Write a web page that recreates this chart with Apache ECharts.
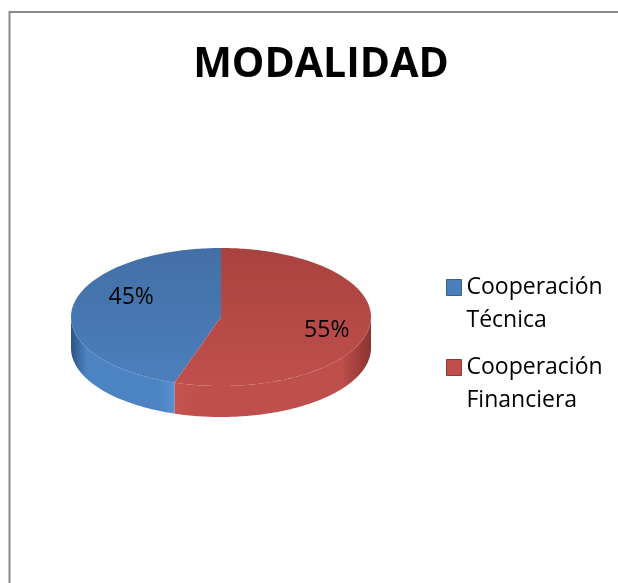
<!DOCTYPE html>
<html style="background-color: #fff;">
<head>
  <meta charset="utf-8">
  <script src="https://cdn.jsdelivr.net/npm/echarts@6/dist/echarts.min.js"></script>
  <style>
    html, body {margin: 0; padding: 0; background: #fff;}
    #container {width: 618px; height: 583px;}
  </style>
</head>
<body>
<div id="container"></div>
<script type="text/javascript">
// ---- data ----
var categories = ['Cooperación Técnica', 'Cooperación Financiera'];
var values = [45, 55];
var labels = ['45%', '55%'];

// ---- look ----
var topColors = [['#436fa5', '#4b7fbc'], ['#a9433f', '#c04f4c']];
var sideColors = [['#2c5482', '#4c83c3', '#5990cf'], ['#c4524f', '#bf4f4c', '#8a3330']];
var boxBorders = ['#385d8a', '#8c3836'];
var labelShift = [[8, -12], [8, 6]];

var CX = 221, CY = 317, RX = 150, RY = 69, DEPTH = 31;

var total = 0;
for (var k = 0; k < values.length; k++) total += values[k];

// angles clockwise from 12 o'clock, slices laid out counterclockwise
function sliceRange(i) {
    var before = 0;
    for (var j = 0; j < i; j++) before += values[j];
    var a1 = 360 * (1 - before / total);
    var a0 = 360 * (1 - (before + values[i]) / total);
    return [a0, a1];
}

function pt(deg, dy) {
    var r = deg * Math.PI / 180;
    return [CX + RX * Math.sin(r), CY - RY * Math.cos(r) + (dy || 0)];
}

function arc(from, to, dy) {
    var pts = [];
    var n = Math.max(2, Math.ceil(Math.abs(to - from)));
    for (var s = 0; s <= n; s++) {
        pts.push(pt(from + (to - from) * s / n, dy));
    }
    return pts;
}

function makeRender(i) {
    return function (params, api) {
        var rng = sliceRange(i);
        var a0 = rng[0], a1 = rng[1];
        var children = [];

        // side wall (front half only: 90..270)
        var s = Math.max(a0, 90), e = Math.min(a1, 270);
        if (e > s) {
            var wall = arc(s, e, 0).concat(arc(e, s, DEPTH));
            var sc = sideColors[i];
            children.push({
                type: 'polygon',
                shape: {points: wall},
                style: {
                    fill: new echarts.graphic.LinearGradient(0, 0, 1, 0, [
                        {offset: 0, color: sc[0]},
                        {offset: 0.15, color: sc[1]},
                        {offset: 0.85, color: sc[1]},
                        {offset: 1, color: sc[2]}
                    ]),
                    stroke: null
                }
            });
        }

        // top face
        var face = [[CX, CY]].concat(arc(a0, a1, 0));
        children.push({
            type: 'polygon',
            shape: {points: face},
            style: {
                fill: new echarts.graphic.LinearGradient(0, 0, 0, 1, [
                    {offset: 0, color: topColors[i][0]},
                    {offset: 1, color: topColors[i][1]}
                ]),
                stroke: null
            }
        });

        // label
        var mid = (a0 + a1) / 2;
        var lp = pt(mid, 0);
        var lx = CX + (lp[0] - CX) * 0.66 + labelShift[i][0];
        var ly = CY + (lp[1] - CY) * 0.66 + labelShift[i][1];
        children.push({
            type: 'text',
            style: {
                text: labels[i],
                x: lx,
                y: ly,
                fill: '#000',
                font: '23px "Open Sans"',
                align: 'center',
                verticalAlign: 'middle'
            }
        });

        return {type: 'group', children: children};
    };
}

var series = [];
var legendData = [];
for (var i = 0; i < categories.length; i++) {
    series.push({
        name: categories[i],
        type: 'custom',
        coordinateSystem: 'none',
        silent: true,
        itemStyle: {color: topColors[i][1]},
        data: [[values[i]]],
        renderItem: makeRender(i)
    });
    legendData.push({
        name: categories[i],
        itemStyle: {color: topColors[i][1], borderColor: boxBorders[i], borderWidth: 1}
    });
}

var dom = document.getElementById('container');
var myChart = echarts.init(dom);
var option = {
    backgroundColor: '#fff',
    animation: false,
    title: {
        text: 'MODALIDAD',
        left: 316,
        top: 40,
        textAlign: 'center',
        textStyle: {
            fontFamily: 'Open Sans',
            fontWeight: 'bold',
            fontSize: 41,
            color: '#000'
        }
    },
    legend: {
        orient: 'vertical',
        left: 441,
        top: 233,
        icon: 'rect',
        itemWidth: 15,
        itemHeight: 16,
        itemGap: -19,
        selectedMode: false,
        data: legendData,
        // blank first line keeps the square level with the first text line
        formatter: function (name) {
            return '\n' + name.replace(' ', '\n');
        },
        textStyle: {
            fontFamily: 'Open Sans',
            fontSize: 23,
            lineHeight: 33,
            color: '#000'
        }
    },
    graphic: [{
        type: 'rect',
        silent: true,
        z: -10,
        shape: {x: 9.5, y: 12, width: 700, height: 700},
        style: {fill: 'none', stroke: '#8a8a8a', lineWidth: 2}
    }],
    series: series
};
myChart.setOption(option);
</script>
</body>
</html>
